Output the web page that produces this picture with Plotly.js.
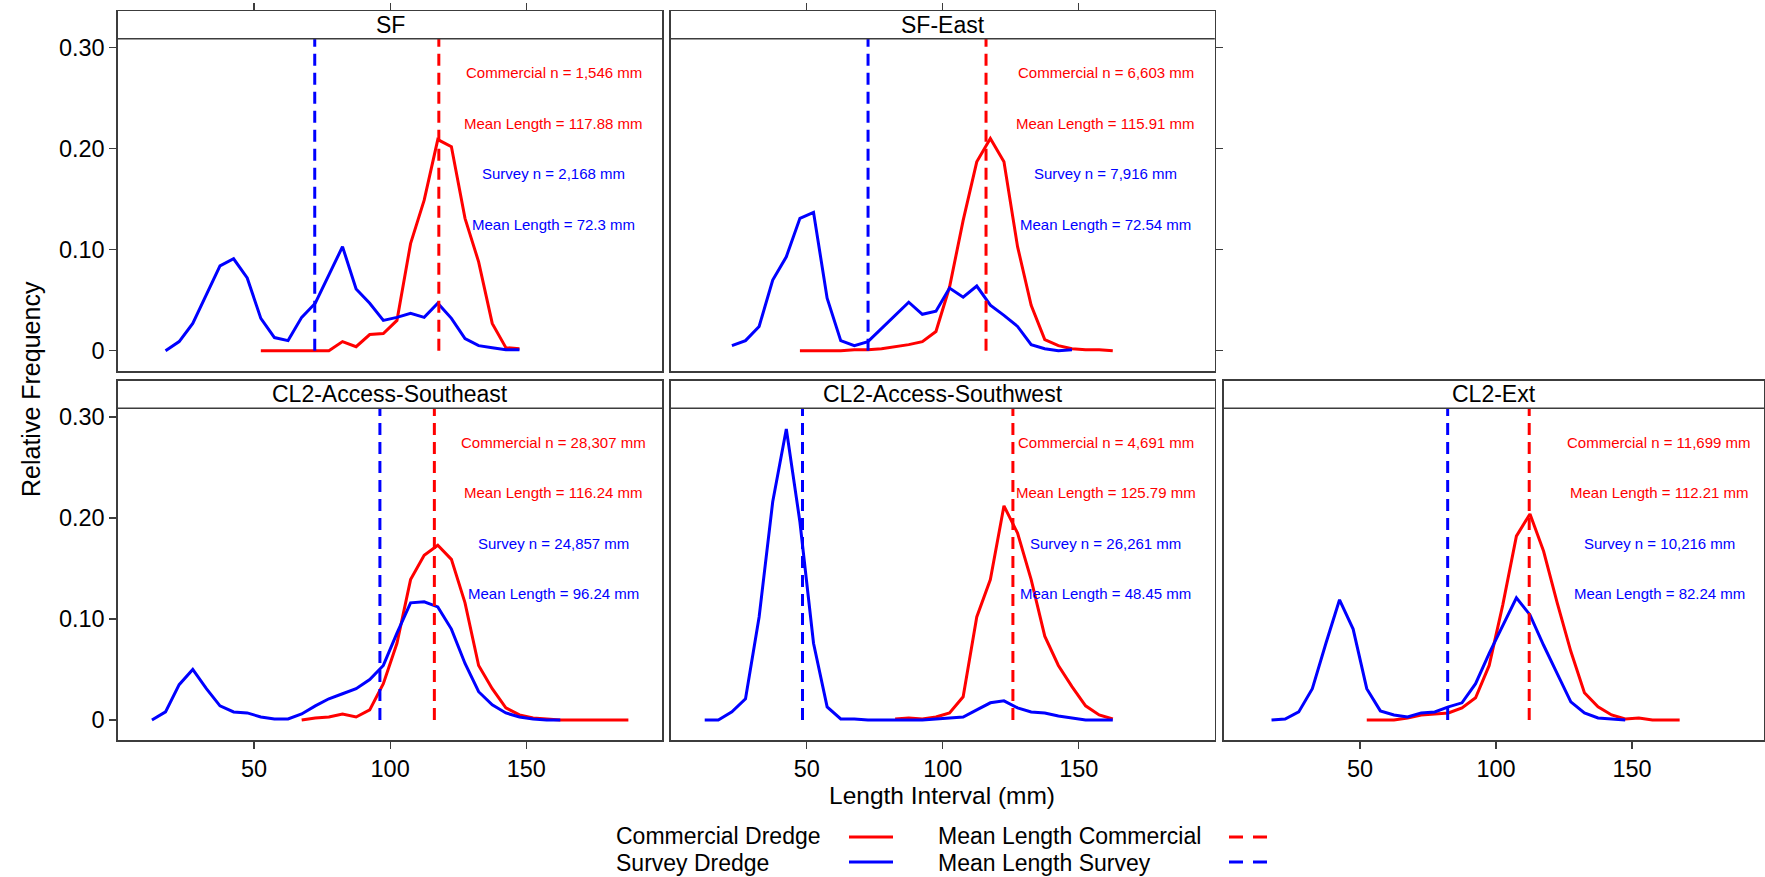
<!DOCTYPE html>
<html>
<head>
<meta charset="utf-8">
<script src="https://cdn.plot.ly/plotly-3.0.1.min.js"></script>
<style>
  html, body { margin: 0; padding: 0; background: #ffffff; }
  #chart { width: 1765px; height: 877px; }
</style>
</head>
<body>
<div id="chart"></div>
<script>
// ---------------- DATA ----------------
const panels = ["SF", "SF-East", "CL2-Access-Southeast", "CL2-Access-Southwest", "CL2-Ext"];

// Commercial dredge relative frequency by length interval (mm)
const sfComX = [52.5,57.5,62.5,67.5,72.5,77.5,82.5,87.5,92.5,97.5,102.5,107.5,112.5,117.5,122.5,127.5,132.5,137.5,142.5,147.5];
const sfComY = [0,0,0,0,0,0,0.009,0.004,0.016,0.017,0.030,0.106,0.149,0.209,0.202,0.131,0.088,0.027,0.003,0.002];
const sfSurX = [17.5,22.5,27.5,32.5,37.5,42.5,47.5,52.5,57.5,62.5,67.5,72.5,77.5,82.5,87.5,92.5,97.5,102.5,107.5,112.5,117.5,122.5,127.5,132.5,137.5,142.5,147.5];
const sfSurY = [0,0.009,0.027,0.055,0.084,0.091,0.072,0.032,0.013,0.010,0.033,0.047,0.075,0.103,0.061,0.047,0.030,0.033,0.037,0.033,0.047,0.032,0.012,0.005,0.003,0.001,0.001];

const sfeComX = [47.5,52.5,57.5,62.5,67.5,72.5,77.5,82.5,87.5,92.5,97.5,102.5,107.5,112.5,117.5,122.5,127.5,132.5,137.5,142.5,147.5,152.5,157.5,162.5];
const sfeComY = [0,0,0,0,0.001,0.001,0.002,0.004,0.006,0.009,0.019,0.063,0.129,0.187,0.210,0.187,0.103,0.045,0.011,0.005,0.002,0.001,0.001,0];
const sfeSurX = [22.5,27.5,32.5,37.5,42.5,47.5,52.5,57.5,62.5,67.5,72.5,77.5,82.5,87.5,92.5,97.5,102.5,107.5,112.5,117.5,122.5,127.5,132.5,137.5,142.5,147.5];
const sfeSurY = [0.005,0.010,0.024,0.070,0.093,0.131,0.137,0.052,0.010,0.005,0.009,0.022,0.035,0.048,0.036,0.039,0.062,0.053,0.064,0.045,0.035,0.024,0.006,0.002,0.000,0.001];

const aseComX = [67.5,72.5,77.5,82.5,87.5,92.5,97.5,102.5,107.5,112.5,117.5,122.5,127.5,132.5,137.5,142.5,147.5,152.5,157.5,162.5,167.5,172.5,177.5,182.5,187.5];
const aseComY = [0,0.002,0.003,0.006,0.003,0.010,0.036,0.076,0.139,0.163,0.173,0.159,0.116,0.054,0.031,0.012,0.005,0.002,0.001,0,0,0,0,0,0];
const aseSurX = [12.5,17.5,22.5,27.5,32.5,37.5,42.5,47.5,52.5,57.5,62.5,67.5,72.5,77.5,82.5,87.5,92.5,97.5,102.5,107.5,112.5,117.5,122.5,127.5,132.5,137.5,142.5,147.5,152.5,157.5,162.5];
const aseSurY = [0,0.008,0.035,0.050,0.031,0.014,0.008,0.007,0.003,0.001,0.001,0.006,0.014,0.021,0.026,0.031,0.040,0.054,0.086,0.116,0.117,0.112,0.090,0.056,0.028,0.015,0.007,0.003,0.001,0,0];

const aswComX = [82.5,87.5,92.5,97.5,102.5,107.5,112.5,117.5,122.5,127.5,132.5,137.5,142.5,147.5,152.5,157.5,162.5];
const aswComY = [0.001,0.002,0.001,0.003,0.007,0.023,0.102,0.139,0.212,0.185,0.139,0.083,0.054,0.033,0.014,0.005,0.001];
const aswSurX = [12.5,17.5,22.5,27.5,32.5,37.5,42.5,47.5,52.5,57.5,62.5,67.5,72.5,77.5,82.5,87.5,92.5,97.5,102.5,107.5,112.5,117.5,122.5,127.5,132.5,137.5,142.5,147.5,152.5,157.5,162.5];
const aswSurY = [0,0,0.008,0.021,0.102,0.216,0.288,0.196,0.076,0.013,0.001,0.001,0,0,0,0,0,0.001,0.002,0.003,0.010,0.017,0.019,0.012,0.008,0.007,0.004,0.002,0,0,0];

const extComX = [52.5,57.5,62.5,67.5,72.5,77.5,82.5,87.5,92.5,97.5,102.5,107.5,112.5,117.5,122.5,127.5,132.5,137.5,142.5,147.5,152.5,157.5,162.5,167.5];
const extComY = [0,0,0,0.002,0.005,0.006,0.007,0.012,0.022,0.054,0.114,0.182,0.204,0.167,0.116,0.068,0.027,0.013,0.005,0.001,0.002,0,0,0];
const extSurX = [17.5,22.5,27.5,32.5,37.5,42.5,47.5,52.5,57.5,62.5,67.5,72.5,77.5,82.5,87.5,92.5,97.5,102.5,107.5,112.5,117.5,122.5,127.5,132.5,137.5,142.5,147.5];
const extSurY = [0,0.001,0.008,0.031,0.076,0.119,0.090,0.031,0.009,0.005,0.003,0.007,0.008,0.013,0.017,0.036,0.066,0.094,0.121,0.104,0.074,0.046,0.018,0.007,0.002,0.001,0];

const comN = [1546, 6603, 28307, 4691, 11699];
const surN = [2168, 7916, 24857, 26261, 10216];
const comMean = [117.88, 115.91, 116.24, 125.79, 112.21];
const surMean = [72.3, 72.54, 96.24, 48.45, 82.24];

const yTickVals = [0, 0.1, 0.2, 0.3];
const yTickText = ["0", "0.10", "0.20", "0.30"];
const xTickVals = [50, 100, 150];
const xTickText = ["50", "100", "150"];
const legendLabels = ["Commercial Dredge", "Survey Dredge", "Mean Length Commercial", "Mean Length Survey"];

// ---------------- LAYOUT GEOMETRY ----------------
const W = 1765, H = 877;
const RED = "#FF0000", BLUE = "#0000FF", AX = "#3c3c3c";
const FONT = "Liberation Sans, Arial, sans-serif";
const pxX = p => p / W;
const pxY = p => 1 - p / H;

const Y_LO = -0.0202, Y_TOP = 0.3087, STRIP = 0.0272;
const rows = [
  {top: 11.4, bottom: 371.1},
  {top: 380.7, bottom: 740.4}
];
const cols = [
  {l: 117.9, r: 662.4, xmax: 200},
  {l: 670.7, r: 1214.8, xmax: 200},
  {l: 1223.9, r: 1764.0, xmax: 198.5}
];
const cells = [[0,0],[0,1],[1,0],[1,1],[1,2]]; // row, col per panel

const series = [
  [sfComX, sfComY, sfSurX, sfSurY],
  [sfeComX, sfeComY, sfeSurX, sfeSurY],
  [aseComX, aseComY, aseSurX, aseSurY],
  [aswComX, aswComY, aswSurX, aswSurY],
  [extComX, extComY, extSurX, extSurY]
];

const traces = [];
const layout = {
  width: W, height: H,
  margin: {l: 0, r: 0, t: 0, b: 0},
  paper_bgcolor: "#ffffff", plot_bgcolor: "#ffffff",
  showlegend: false,
  font: {family: FONT, color: "#000000"},
  annotations: [], shapes: []
};

const LABEL_X = 160;
const LABEL_Y = [0.275, 0.225, 0.175, 0.125];
const DASH = "12px,7px";

panels.forEach((name, i) => {
  const [r, c] = cells[i];
  const sfx = i === 0 ? "" : String(i + 1);
  const xa = "x" + sfx, ya = "y" + sfx;
  const row = rows[r], col = cols[c];

  const xaxis = {
    domain: [pxX(col.l), pxX(col.r)],
    range: [0, col.xmax],
    anchor: ya,
    showgrid: false, zeroline: false,
    showline: true, mirror: true, linecolor: AX, linewidth: 1.5,
    tickvals: xTickVals, ticktext: xTickText,
    tickcolor: AX, ticklen: 7, tickwidth: 1.3,
    tickfont: {size: 23.5, family: FONT, color: "#000"}
  };
  if (r === 0) { xaxis.side = "top"; xaxis.ticks = "outside"; xaxis.showticklabels = false; }
  else { xaxis.side = "bottom"; xaxis.ticks = "outside"; xaxis.showticklabels = true; }

  const yaxis = {
    domain: [pxY(row.bottom), pxY(row.top)],
    range: [Y_LO, Y_TOP + STRIP],
    anchor: xa,
    showgrid: false, zeroline: false,
    showline: true, mirror: true, linecolor: AX, linewidth: 1.5,
    tickvals: yTickVals, ticktext: yTickText,
    tickcolor: AX, ticklen: 7, tickwidth: 1.3,
    tickfont: {size: 23.5, family: FONT, color: "#000"}
  };
  if (c === 0) { yaxis.side = "left"; yaxis.ticks = "outside"; yaxis.showticklabels = true; }
  else if (i === 1) { yaxis.side = "right"; yaxis.ticks = "outside"; yaxis.showticklabels = false; }
  else { yaxis.ticks = ""; yaxis.showticklabels = false; }

  layout["xaxis" + sfx] = xaxis;
  layout["yaxis" + sfx] = yaxis;

  const [cx, cy, sx, sy] = series[i];
  traces.push({x: cx, y: cy, xaxis: xa, yaxis: ya, type: "scatter", mode: "lines",
               line: {color: RED, width: 3}, hoverinfo: "skip"});
  traces.push({x: sx, y: sy, xaxis: xa, yaxis: ya, type: "scatter", mode: "lines",
               line: {color: BLUE, width: 3}, hoverinfo: "skip"});
  traces.push({x: [surMean[i], surMean[i]], y: [0, Y_TOP], xaxis: xa, yaxis: ya, type: "scatter", mode: "lines",
               line: {color: BLUE, width: 3, dash: DASH}, hoverinfo: "skip"});
  traces.push({x: [comMean[i], comMean[i]], y: [0, Y_TOP], xaxis: xa, yaxis: ya, type: "scatter", mode: "lines",
               line: {color: RED, width: 3, dash: DASH}, hoverinfo: "skip"});

  // strip separator line
  layout.shapes.push({type: "line", xref: xa + " domain", yref: ya, x0: 0, x1: 1, y0: Y_TOP, y1: Y_TOP,
                      line: {color: AX, width: 1.5}});
  // strip title
  layout.annotations.push({text: name, xref: xa + " domain", yref: ya, x: 0.5, y: Y_TOP + STRIP / 2,
                           xanchor: "center", yanchor: "middle", showarrow: false,
                           font: {size: 23, family: FONT, color: "#000"}});
  // panel labels
  const labels = [
    ["Commercial n = " + comN[i].toLocaleString("en-US") + " mm", RED],
    ["Mean Length = " + String(comMean[i]) + " mm", RED],
    ["Survey n = " + surN[i].toLocaleString("en-US") + " mm", BLUE],
    ["Mean Length = " + String(surMean[i]) + " mm", BLUE]
  ];
  labels.forEach((lb, k) => {
    layout.annotations.push({text: lb[0], xref: xa, yref: ya, x: LABEL_X, y: LABEL_Y[k],
                             xanchor: "center", yanchor: "middle", showarrow: false,
                             font: {size: 15, family: FONT, color: lb[1]}});
  });
});

// axis titles
layout.annotations.push({text: "Relative Frequency", xref: "paper", yref: "paper",
  x: pxX(31), y: pxY(389), textangle: -90, xanchor: "center", yanchor: "middle",
  showarrow: false, font: {size: 25, family: FONT, color: "#000"}});
layout.annotations.push({text: "Length Interval (mm)", xref: "paper", yref: "paper",
  x: pxX(941.5), y: pxY(795), xanchor: "center", yanchor: "middle",
  showarrow: false, font: {size: 24.5, family: FONT, color: "#000"}});

// legend (manual, text then key)
const legText = [[613.6, 836], [613.6, 863], [936, 836], [936, 863]];
const legKey = [[849, 893, 837, RED, "solid"], [849, 893, 862, BLUE, "solid"],
                [1229, 1267, 837, RED, "dash"], [1229, 1267, 862, BLUE, "dash"]];
legendLabels.forEach((t, k) => {
  layout.annotations.push({text: t, xref: "paper", yref: "paper",
    x: pxX(legText[k][0]), y: pxY(legText[k][1]), xanchor: "left", yanchor: "middle",
    showarrow: false, font: {size: 23, family: FONT, color: "#000"}});
  const kk = legKey[k];
  layout.shapes.push({type: "line", xref: "paper", yref: "paper",
    x0: pxX(kk[0]), x1: pxX(kk[1]), y0: pxY(kk[2]), y1: pxY(kk[2]),
    line: {color: kk[3], width: 3, dash: kk[4] === "dash" ? "14px,10px" : "solid"}});
});

Plotly.newPlot("chart", traces, layout, {staticPlot: true, displayModeBar: false});
</script>
</body>
</html>
